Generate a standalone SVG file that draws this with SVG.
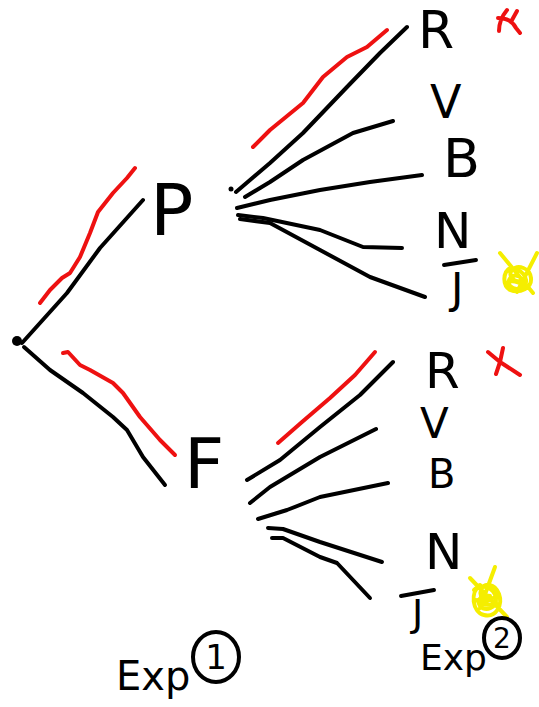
<svg xmlns="http://www.w3.org/2000/svg" width="539" height="707" viewBox="0 0 539 707">
<style>
.ln{fill:none;stroke:#000;stroke-width:4;stroke-linecap:round;stroke-linejoin:round}
.rd{fill:none;stroke:#ee1111;stroke-width:4;stroke-linecap:round;stroke-linejoin:round}
.yl{fill:none;stroke:#f5ee00;stroke-width:4;stroke-linecap:round;stroke-linejoin:round}
.t{font-family:"DejaVu Sans","Liberation Sans",sans-serif;fill:#000}
.c{fill:none;stroke:#000;stroke-width:4}
</style>
<rect width="539" height="707" fill="#fff"/>
<g id="connectors">
  <path class="ln" d="M22,343 L67,293 L100,248 L143,200"/>
  <path class="rd" d="M40,303 L50,290 L62,278 L70,273 L80,257 L90,233 L98,212 L113,193 L127,178 L135,168"/>
  <path class="ln" d="M24,347 L50,370 L83,393 L113,417 L127,430 L143,457 L165,485"/>
  <path class="rd" d="M63,353 L68,352 L80,365 L90,370 L113,383 L123,393 L140,417 L160,440 L175,455"/>
  <circle cx="231" cy="189" r="2.5" fill="#000"/>
  <path class="ln" d="M236,192 L270,163 L303,133 L347,87 L380,53 L407,27"/>
  <path class="rd" d="M253,147 L270,130 L303,103 L323,77 L347,57 L367,47 L387,30"/>
  <path class="ln" d="M245,197 L270,182 L303,160 L353,133 L393,121"/>
  <path class="ln" d="M237,208 L270,200 L320,190 L370,182 L422,175"/>
  <path class="ln" d="M238,215 L263,218 L320,230 L363,247 L402,248"/>
  <path class="ln" d="M240,219 L270,223 L320,250 L370,277 L425,297"/>
  <path class="ln" d="M247,480 L280,460 L320,427 L360,395 L393,362"/>
  <path class="rd" d="M278,443 L302,422 L330,398 L355,375 L375,352"/>
  <path class="ln" d="M250,503 L270,487 L320,457 L376,429"/>
  <path class="ln" d="M258,519 L287,510 L320,497 L388,483"/>
  <path class="ln" d="M268,528 L283,529 L320,542 L382,562"/>
  <path class="ln" d="M272,538 L283,538 L320,557 L337,563 L370,598"/>
</g>
<g id="root"><circle cx="17" cy="341" r="5" fill="#000"/></g>
<g id="node-P"><text class="t" x="150" y="235" font-size="72">P</text></g>
<g id="node-F"><text class="t" x="184" y="488" font-size="70">F</text></g>
<g id="node-R1"><text class="t" x="418" y="48" font-size="52">R</text></g>
<g id="node-V1"><text class="t" x="430" y="118" font-size="46">V</text></g>
<g id="node-B1"><text class="t" x="443" y="177" font-size="54">B</text></g>
<g id="node-N1"><text class="t" x="434" y="248" font-size="50">N</text></g>
<g id="node-J1"><path class="ln" d="M444,265 L476,260"/><text class="t" x="451" y="303" font-size="42">J</text></g>
<g id="node-R2"><text class="t" x="425" y="388" font-size="50">R</text></g>
<g id="node-V2"><text class="t" x="420" y="438" font-size="42">V</text></g>
<g id="node-B2"><text class="t" x="428" y="488" font-size="40">B</text></g>
<g id="node-N2"><text class="t" x="425" y="569" font-size="50">N</text></g>
<g id="node-J2"><path class="ln" d="M401,596 L434,590"/><text class="t" x="412" y="626" font-size="38">J</text></g>
<g id="marks">
  <path class="rd" d="M507,10 C502,16 499,24 499,31 M498,18 C506,18 512,20 516,28 L520,33 M512,20 L517,11"/>
  <path class="rd" d="M488,352 L500,362 L520,375 M503,348 L500,362 L496,374"/>
  <path class="yl" d="M500,253 L533,293 M537,253 L517,292 M510,268 C503,272 502,285 510,290 C520,294 532,288 531,278 C530,268 518,264 512,270 C507,276 515,284 522,280 M506,272 C512,266 524,270 526,280 C527,288 516,292 510,286 C506,280 512,274 518,276 M508,282 C514,280 522,283 526,287"/>
  <path class="yl" d="M495,567 L480,608 M470,578 L507,617 M480,585 C470,592 472,612 484,615 C496,618 503,605 499,594 C495,583 484,582 481,590 C478,598 488,604 493,598 M474,590 C480,584 494,586 496,598 C497,608 486,612 480,606 C476,600 482,594 490,596 M476,600 C482,604 490,606 497,604"/>
</g>
<g id="exp1">
  <text class="t" x="116" y="690" font-size="40">Exp</text>
  <ellipse class="c" cx="216" cy="657" rx="23" ry="25"/>
  <text class="t" x="216" y="669" font-size="34" text-anchor="middle">1</text>
</g>
<g id="exp2">
  <text class="t" x="420" y="670" font-size="36">Exp</text>
  <ellipse class="c" cx="502" cy="638" rx="18" ry="20"/>
  <text class="t" x="502" y="648" font-size="28" text-anchor="middle">2</text>
</g>
</svg>
